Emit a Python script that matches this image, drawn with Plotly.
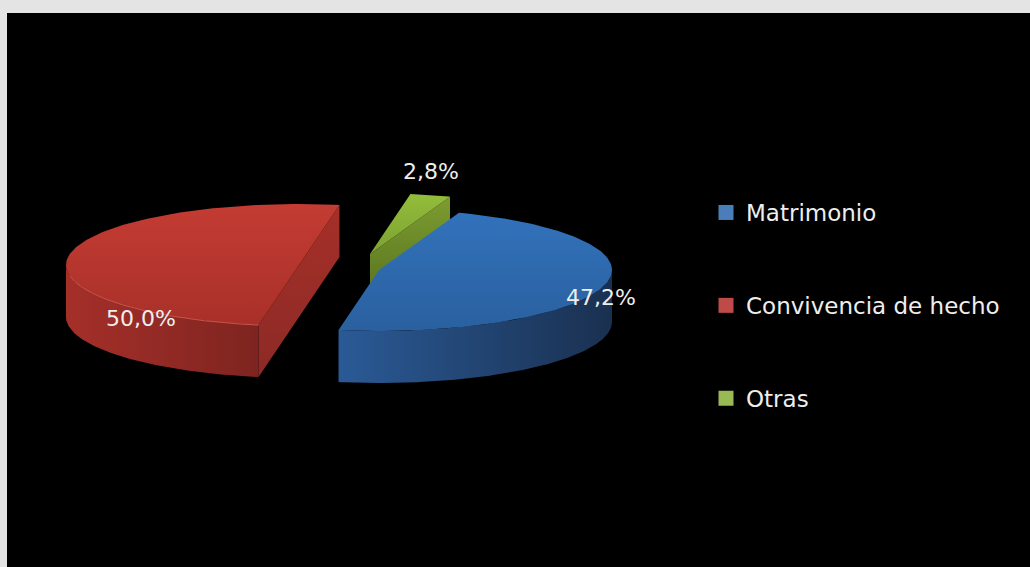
import numpy as np
import plotly.graph_objects as go

# ---- data ----
categories = ["Matrimonio", "Convivencia de hecho", "Otras"]
percentages = [47.2, 50.0, 2.8]

# ---- style ----
legend_colors = ["#4a7ebb", "#be4b48", "#98b954"]
top_colors = [("#3272bb", "#2a609f"), ("#c43c33", "#a83029"), ("#93bd3b", "#7da232")]
rim_colors = [("#2a5a96", "#1a3050"), ("#a52f29", "#7e2420"), ("#6d8c2a", "#5c7a22")]
face_colors = [("#2a5a96", "#1c3a66"), ("#a62f29", "#8c2a25"), ("#7d9c30", "#55701f")]
FONT = "DejaVu Sans"

# ---- projection of the tilted, exploded disc ----
RX, RY, DEPTH = 233.0, 61.0, 52.0
centres = [(379.0, 270.0), (299.0, 265.0), (370.0, 254.0)]
label_xy = [(601, 299), (141, 320), (431, 173)]
START_RED = 80.0

spans = [p / sum(percentages) * 360.0 for p in percentages]
starts = [START_RED + spans[1], START_RED, START_RED + spans[1] + spans[0]]
ends = [starts[i] + spans[i] for i in range(3)]


def rim(c, t0, t1, n=160, drop=0.0):
    t = np.radians(np.linspace(t0, t1, n))
    return c[0] + RX * np.cos(t), c[1] - RY * np.sin(t) + drop


def poly(x, y, colors, kind="vertical"):
    # plotly's vertical gradient runs from the bottom of the shape upwards
    c0, c1 = (colors[1], colors[0]) if kind == "vertical" else colors
    return go.Scatter(
        x=list(x) + [x[0]], y=list(y) + [y[0]], mode="lines", fill="toself",
        line=dict(width=0), showlegend=False, hoverinfo="skip",
        fillgradient=dict(type=kind, colorscale=[[0, c0], [1, c1]]),
    )


def wedge_traces(i):
    c = centres[i]
    t0, t1 = starts[i], ends[i]
    out = []
    ax, ay = rim(c, t0, t0, 1)
    bx, by = rim(c, t1, t1, 1)
    # radial faces that look towards the viewer's right
    if i == 1:
        out.append(poly([ax[0], c[0], bx[0], bx[0], c[0], ax[0]],
                        [ay[0], c[1], by[0], by[0] + DEPTH, c[1] + DEPTH, ay[0] + DEPTH],
                        face_colors[i]))
    elif i == 2:
        out.append(poly([c[0], ax[0], ax[0], c[0]],
                        [c[1], ay[0], ay[0] + DEPTH, c[1] + DEPTH],
                        face_colors[i]))
    # curved outer wall (only its front half is visible)
    lo, hi = max(t0, 180.0), min(t1, 360.0)
    if i == 0:
        lo, hi = t0, 360.0
    if hi > lo:
        ux, uy = rim(c, lo, hi)
        lx, ly = rim(c, hi, lo, drop=DEPTH)
        out.append(poly(np.r_[ux, lx], np.r_[uy, ly], rim_colors[i], "horizontal"))
    # top face
    rx_, ry_ = rim(c, t0, t1)
    out.append(poly(np.r_[c[0], rx_], np.r_[c[1], ry_], top_colors[i]))
    return out


fig = go.Figure()
for idx in (2, 0, 1):
    for tr in wedge_traces(idx):
        fig.add_trace(tr)

# light line on the front edge of the red slice
hx, hy = rim(centres[1], 190, starts[1] + spans[1])
fig.add_trace(go.Scatter(x=hx, y=hy, mode="lines", line=dict(color="#c9564c", width=1),
                         showlegend=False, hoverinfo="skip"))

# data labels
fig.add_trace(go.Scatter(
    x=[p[0] for p in label_xy], y=[p[1] for p in label_xy], mode="text",
    text=[f"{v:.1f}".replace(".", ",") + "%" for v in percentages],
    textposition="middle center", showlegend=False, hoverinfo="skip",
    textfont=dict(family=FONT, size=22, color="#eeeeee"),
))

# legend
for name, col in zip(categories, legend_colors):
    fig.add_trace(go.Scatter(
        x=[None], y=[None], mode="markers", name=name, legendgroup=name,
        marker=dict(symbol="square", size=15, color=col),
    ))

fig.update_layout(
    width=1030, height=567, autosize=False,
    margin=dict(l=0, r=0, t=0, b=0),
    paper_bgcolor="#e4e4e4", plot_bgcolor="#e4e4e4",
    xaxis=dict(range=[0, 1030], visible=False, fixedrange=True),
    yaxis=dict(range=[567, 0], visible=False, fixedrange=True),
    shapes=[dict(type="rect", xref="paper", yref="paper", x0=7 / 1030, x1=1, y0=0,
                 y1=1 - 13 / 567, fillcolor="#000000", line=dict(width=0), layer="below")],
    legend=dict(x=706 / 1030, y=1 - 191 / 567, xanchor="left", yanchor="top",
                bgcolor="rgba(0,0,0,0)", tracegroupgap=60, traceorder="grouped",
                font=dict(family=FONT, size=23, color="#eeeeee"),
                itemwidth=30),
)

fig.write_html("out.html", config={"displayModeBar": False},
               post_script="document.body.style.margin='0';")
